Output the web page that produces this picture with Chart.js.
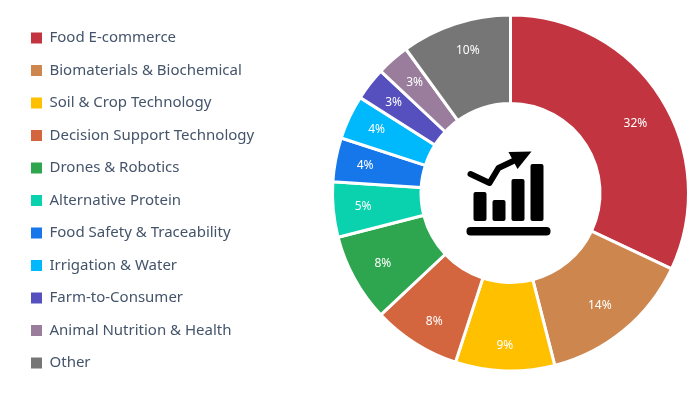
<!DOCTYPE html>
<html>
<head>
<meta charset="utf-8">
<style>
  html, body { margin: 0; padding: 0; background: #fff; }
  #wrap { width: 700px; height: 394px; }
</style>
<script src="https://cdn.jsdelivr.net/npm/chart.js@4"></script>
</head>
<body>
<div id="wrap"><canvas id="chart" width="700" height="394"></canvas></div>
<script>
const categories = ['Food E-commerce', 'Biomaterials & Biochemical', 'Soil & Crop Technology', 'Decision Support Technology', 'Drones & Robotics', 'Alternative Protein', 'Food Safety & Traceability', 'Irrigation & Water', 'Farm-to-Consumer', 'Animal Nutrition & Health', 'Other'];
const shares = [32, 14, 9, 8, 8, 5, 4, 4, 3, 3, 10];
const colors = ['#C23440', '#CD864D', '#FFC000', '#D3663F', '#2EA64F', '#0AD2AE', '#1677EB', '#00B8FC', '#5650BF', '#9A7D9D', '#767676'];

// hand-placed labels in the original, dx/dy from the default spot
const labelNudge = { 0: [0, 10], 1: [-5, -1], 2: [-1, 5], 3: [3, 4], 4: [2, -1], 9: [2, 1], 10: [3, -2] };

// percent labels, pushed a bit past the middle of the ring
const sliceLabels = {
  id: 'sliceLabels',
  afterDatasetsDraw(chart) {
    const ctx = chart.ctx;
    ctx.save();
    ctx.fillStyle = '#fff';
    ctx.font = '12px "Noto Sans"';
    ctx.textAlign = 'center';
    ctx.textBaseline = 'middle';
    chart.getDatasetMeta(0).data.forEach((arc, i) => {
      const mid = (arc.startAngle + arc.endAngle) / 2;
      const r = arc.outerRadius - 30;
      const nudge = labelNudge[i] || [0, 0];
      ctx.fillText(shares[i] + '%', arc.x + Math.cos(mid) * r + nudge[0], arc.y + Math.sin(mid) * r + nudge[1]);
    });
    ctx.restore();
  }
};

// chart icon in the hole
const centerIcon = {
  id: 'centerIcon',
  afterDatasetsDraw(chart) {
    const ctx = chart.ctx;
    const arc = chart.getDatasetMeta(0).data[0];
    ctx.save();
    ctx.translate(arc.x, arc.y);
    ctx.fillStyle = '#000';
    ctx.strokeStyle = '#000';
    [[-37, -1, 13, 29], [-18, 7, 13, 21], [1, -14, 13, 42], [20, -29, 13, 57]].forEach(b => {
      ctx.beginPath();
      ctx.roundRect(b[0], b[1], b[2], b[3], 2);
      ctx.fill();
    });
    ctx.beginPath();
    ctx.roundRect(-44, 34, 84, 8.5, 4);
    ctx.fill();
    ctx.lineWidth = 6;
    ctx.lineCap = 'round';
    ctx.lineJoin = 'round';
    ctx.beginPath();
    ctx.moveTo(-40, -19);
    ctx.lineTo(-21, -10);
    ctx.lineTo(-12, -25);
    ctx.lineTo(7, -34);
    ctx.stroke();
    ctx.beginPath();
    ctx.moveTo(-2, -41);
    ctx.lineTo(21, -41.5);
    ctx.lineTo(7, -24);
    ctx.closePath();
    ctx.fill();
    ctx.restore();
  }
};

const chart = new Chart(document.getElementById('chart'), {
  type: 'doughnut',
  data: {
    labels: categories,
    datasets: [{
      data: shares,
      backgroundColor: colors,
      borderColor: '#fff',
      borderWidth: 3
    }]
  },
  options: {
    responsive: false,
    animation: false,
    radius: 178,
    cutout: 88.5,
    layout: { padding: { left: 13.5, right: 12, top: 13, bottom: 21 } },
    plugins: {
      tooltip: { enabled: false },
      legend: {
        position: 'left',
        align: 'start',
        labels: {
          boxWidth: 11,
          boxHeight: 11,
          padding: 17.5,
          color: '#44546A',
          font: { family: '"Noto Sans"', size: 15 },
          // the slices' white border would eat into the legend squares
          generateLabels: c => Chart.overrides.doughnut.plugins.legend.labels.generateLabels(c).map(l => ({ ...l, lineWidth: 0 }))
        }
      }
    }
  },
  plugins: [sliceLabels, centerIcon]
});

// legend keeps the whole left side so the ring sits to the right,
// and may run past the ring's bottom padding without wrapping
const legendFit = chart.legend.fit;
chart.legend.fit = function () {
  this.maxHeight = 394;
  legendFit.call(this);
  this.width = 319.5;
};
const legendDraw = chart.legend.draw;
chart.legend.draw = function () {
  this.bottom = 394;
  legendDraw.call(this);
};
chart.update();
</script>
</body>
</html>
